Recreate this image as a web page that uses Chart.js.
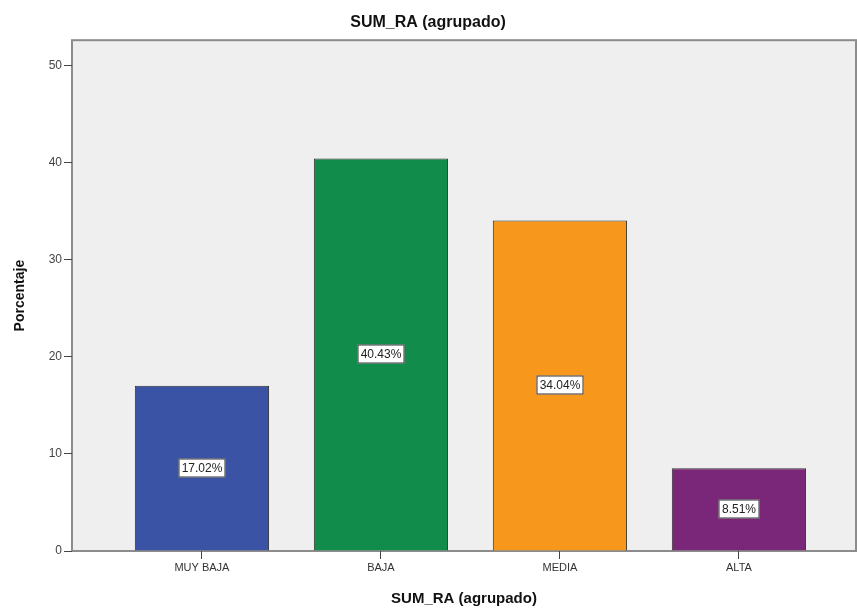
<!DOCTYPE html>
<html>
<head>
<meta charset="utf-8">
<script src="https://cdn.jsdelivr.net/npm/chart.js@4"></script>
<style>
  body { margin: 0; background: #fff; }
  #wrap { width: 857px; height: 610px; }
</style>
</head>
<body>
<div id="wrap"><canvas id="grafico"></canvas></div>
<script>
// Datos del gráfico
const categorias = ['MUY BAJA', 'BAJA', 'MEDIA', 'ALTA'];
const porcentajes = [17.02, 40.43, 34.04, 8.51];
const etiquetas = ['17.02%', '40.43%', '34.04%', '8.51%'];
const colores = ['#3A53A4', '#118C4A', '#F7981D', '#7B2779'];
const marcasY = [0, 10, 20, 30, 40, 50];

// Fondo gris y marco del área de trazado
const fondoPlugin = {
  id: 'fondo',
  beforeDraw(chart) {
    const { ctx, chartArea: a } = chart;
    ctx.save();
    ctx.fillStyle = '#EFEFEF';
    ctx.fillRect(a.left, a.top, a.right - a.left, a.bottom - a.top);
    ctx.strokeStyle = '#8C8C8C';
    ctx.lineWidth = 2;
    ctx.strokeRect(a.left, a.top, a.right - a.left, a.bottom - a.top);
    ctx.restore();
  }
};

// Etiquetas de porcentaje dentro de cada barra
const etiquetasPlugin = {
  id: 'etiquetas',
  afterDatasetsDraw(chart) {
    const { ctx } = chart;
    const meta = chart.getDatasetMeta(0);
    ctx.save();
    ctx.font = '12px "Liberation Sans", Arial, sans-serif';
    ctx.textAlign = 'center';
    ctx.textBaseline = 'middle';
    meta.data.forEach((bar, i) => {
      const texto = etiquetas[i];
      const cx = Math.round(bar.x);
      const cy = Math.round((bar.y + bar.base) / 2);
      const w = Math.ceil(ctx.measureText(texto).width) + 6;
      const h = 19;
      ctx.fillStyle = '#FFFFFF';
      ctx.fillRect(cx - w / 2, cy - h / 2, w, h);
      ctx.strokeStyle = '#333333';
      ctx.lineWidth = 1;
      ctx.strokeRect(cx - w / 2 + 0.5, cy - h / 2 + 0.5, w - 1, h - 1);
      ctx.fillStyle = '#222222';
      ctx.fillText(texto, cx, cy + 1);
    });
    ctx.restore();
  }
};

const fuente = '"Liberation Sans", Arial, sans-serif';

new Chart(document.getElementById('grafico'), {
  type: 'bar',
  data: {
    datasets: [{
      data: porcentajes.map((v, i) => ({ x: i + 1, y: v })),
      backgroundColor: colores,
      borderColor: '#333333',
      borderWidth: 1,
      categoryPercentage: 1,
      barPercentage: 0.75
    }]
  },
  options: {
    responsive: true,
    maintainAspectRatio: false,
    animation: false,
    layout: { padding: { right: 1 } },
    plugins: {
      legend: { display: false },
      tooltip: { enabled: false },
      title: {
        display: true,
        text: 'SUM_RA (agrupado)',
        color: '#111',
        font: { family: fuente, size: 16, weight: 'bold' },
        padding: { top: 13, bottom: 8 }
      }
    },
    scales: {
      x: {
        type: 'linear',
        min: 0.274,
        max: 4.654,
        offset: false,
        afterBuildTicks: axis => { axis.ticks = categorias.map((c, i) => ({ value: i + 1 })); },
        afterFit: scale => { scale.height = 59; },
        grid: { display: true, offset: false, drawOnChartArea: false, drawTicks: true, tickLength: 8, color: '#444', lineWidth: 1 },
        border: { display: false },
        ticks: {
          color: '#333',
          font: { family: fuente, size: 11 },
          padding: 2,
          maxRotation: 0,
          callback: v => categorias[v - 1]
        },
        title: {
          display: true,
          text: 'SUM_RA (agrupado)',
          color: '#111',
          font: { family: fuente, size: 15, weight: 'bold' },
          padding: { top: 0, bottom: 2 }
        }
      },
      y: {
        min: 0,
        max: 52.6,
        afterBuildTicks: axis => { axis.ticks = marcasY.map(v => ({ value: v })); },
        afterFit: scale => { scale.width = 72; },
        grid: { display: true, drawOnChartArea: false, drawTicks: true, tickLength: 8, color: '#444', lineWidth: 1 },
        border: { display: false },
        ticks: {
          color: '#444',
          font: { family: fuente, size: 12 },
          padding: 2
        },
        title: {
          display: true,
          text: 'Porcentaje',
          color: '#111',
          font: { family: fuente, size: 14, weight: 'bold' },
          padding: { top: 12, bottom: 0 }
        }
      }
    }
  },
  plugins: [fondoPlugin, etiquetasPlugin]
});
</script>
</body>
</html>
